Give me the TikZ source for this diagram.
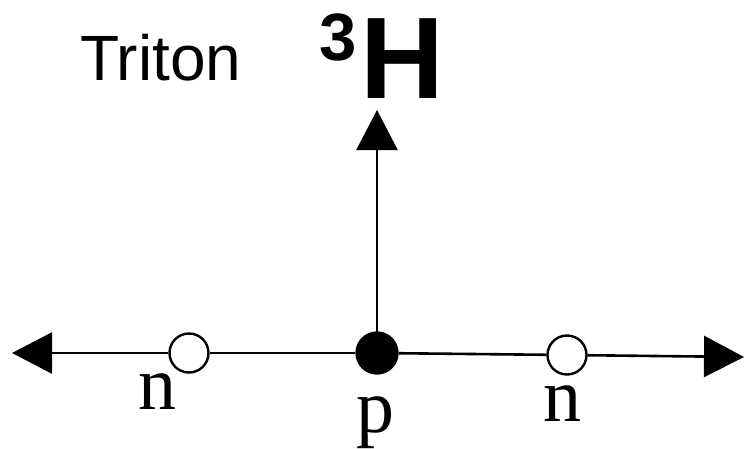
\documentclass[tikz,border=0pt]{standalone}
\usepackage{fontspec}
\setmainfont{Liberation Serif}
\newfontfamily\labelsans{Liberation Sans}
\usetikzlibrary{arrows.meta}

\tikzset{
  axis/.style={line width=2.6pt, -{Triangle[length=40pt,width=41pt]}},
  bond/.style={line width=2.6pt},
  neutron/.style={circle, draw, line width=2.4pt, fill=white, inner sep=0pt, minimum size=39pt},
  proton/.style={circle, fill=black, inner sep=0pt, minimum size=43pt},
  particle/.style={font=\fontsize{76}{80}\selectfont, inner sep=0pt, anchor=base}
}

\begin{document}
\begin{tikzpicture}[x=1pt, y=-1pt]
  \useasboundingbox (0,0) rectangle (744,448);

  % nucleon positions
  \coordinate (lt) at (12,353);
  \coordinate (rt) at (744,357);
  \coordinate (up) at (377,110);
  \node[neutron] (n1) at (189,353) {};
  \node[proton]  (p)  at (377,353) {};
  \node[neutron] (n2) at (567,355) {};

  % connectors
  \draw[axis] (n1) -- (lt);
  \draw[bond] (n1) -- (p);
  \draw[bond] (p) -- (n2);
  \draw[axis] (n2) -- (rt);
  \draw[axis] (p.center) -- (up);
  \node[proton] at (377,353) {};

  % labels
  \node[particle] (ln1) at (157,409) {n};
  \node[particle] (lp)  at (375,432) {p};
  \node[particle] (ln2) at (562,421) {n};

  \node[anchor=base west, inner sep=0pt, font=\labelsans\fontsize{64}{70}\selectfont] (title) at (80,80) {Triton};
  \node[anchor=base west, inner sep=0pt, font=\labelsans\bfseries\fontsize{67}{70}\selectfont] (mass) at (319,60) {3};
  \node[anchor=base west, inner sep=0pt, font=\labelsans\bfseries\fontsize{116}{120}\selectfont] (elem) at (360,98) {H};
\end{tikzpicture}
\end{document}
